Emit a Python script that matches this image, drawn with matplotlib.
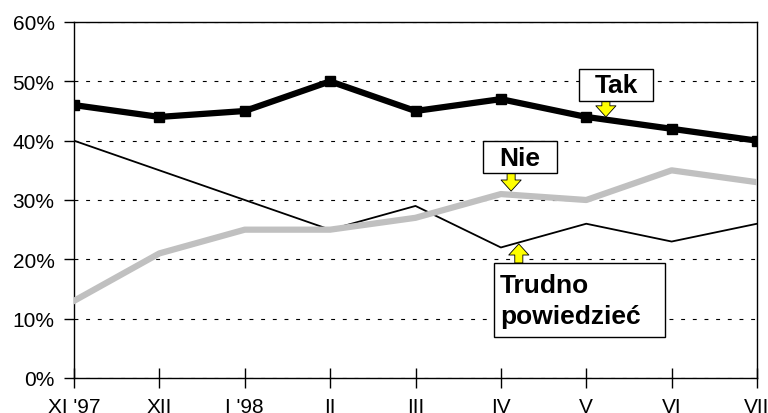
import matplotlib
matplotlib.use("Agg")
import matplotlib.pyplot as plt
from matplotlib.patches import Rectangle

months = ["XI '97", "XII", "I '98", "II", "III", "IV", "V", "VI", "VII"]
tak = [46, 44, 45, 50, 45, 47, 44, 42, 40]
nie = [13, 21, 25, 25, 27, 31, 30, 35, 33]
trudno = [40, 35, 30, 25, 29, 22, 26, 23, 26]
y_ticks = [0, 10, 20, 30, 40, 50, 60]

plt.rcParams['font.family'] = ['Liberation Sans', 'DejaVu Sans']

fig = plt.figure(figsize=(7.68, 4.14), dpi=100)
ax = fig.add_axes([74 / 768, 35 / 414, 683 / 768, 356 / 414])

x = list(range(len(months)))
ax.plot(x, trudno, color='black', lw=1.3, zorder=3)
ax.plot(x, nie, color='#c0c0c0', lw=4.5, zorder=4)
ax.plot(x, tak, color='black', lw=4.5, marker='s', markersize=6.5, zorder=5)

ax.set_xlim(0, len(months) - 1)
ax.set_ylim(0, 60)
ax.set_xticks(x)
ax.set_xticklabels(months, fontsize=15)
ax.set_yticks(y_ticks)
ax.set_yticklabels([f"{v}%" for v in y_ticks], fontsize=15)
ax.tick_params(axis='x', direction='inout', length=14, width=1, pad=7)
ax.tick_params(axis='y', direction='out', length=7, width=1, pad=7)
ax.yaxis.grid(True, color='black', lw=0.8, linestyle=(0, (3.5, 7)))
ax.set_axisbelow(True)
for s in ax.spines.values():
    s.set_linewidth(1)

arrow = dict(width=5.8, headwidth=14.5, headlength=8, facecolor='yellow',
             edgecolor='black', lw=0.6, shrink=0)


def label_box(x0, x1, y0, y1):
    ax.add_patch(Rectangle((x0, y0), x1 - x0, y1 - y0, fc='white',
                           ec='black', lw=1, zorder=7))


# Tak
ax.annotate('', xy=(6.23, 44.0), xytext=(6.23, 46.7), arrowprops=arrow, zorder=6)
label_box(5.915, 6.782, 46.69, 52.08)
ax.text(6.35, 49.3, 'Tak', fontsize=19, fontweight='bold', ha='center',
        va='center', zorder=8)

# Nie
ax.annotate('', xy=(5.12, 31.5), xytext=(5.12, 34.55), arrowprops=arrow, zorder=6)
label_box(4.79, 5.657, 34.55, 39.95)
ax.text(5.22, 37.15, 'Nie', fontsize=19, fontweight='bold', ha='center',
        va='center', zorder=8)

# Trudno powiedziec
ax.annotate('', xy=(5.21, 22.6), xytext=(5.21, 19.38), arrowprops=arrow, zorder=6)
label_box(4.92, 6.92, 6.91, 19.38)
ax.text(4.99, 15.7, 'Trudno', fontsize=19, fontweight='bold', ha='left',
        va='center', zorder=8)
ax.text(4.99, 10.4, 'powiedzieć', fontsize=19, fontweight='bold', ha='left',
        va='center', zorder=8)

fig.savefig('out.png', dpi=100)
